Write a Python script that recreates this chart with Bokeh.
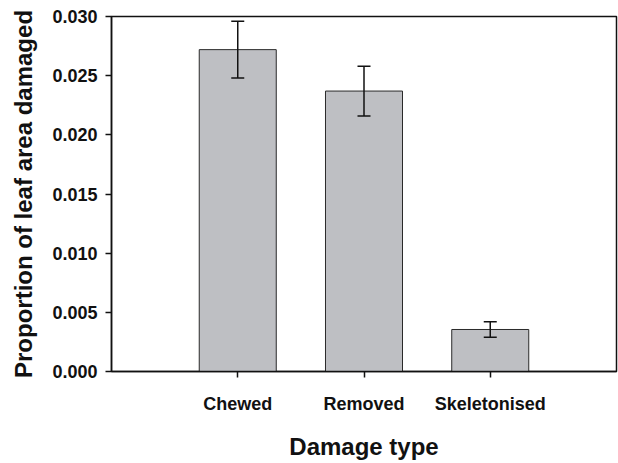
from bokeh.plotting import figure
from bokeh.models import (ColumnDataSource, Whisker, TeeHead, SingleIntervalTicker,
                          NumeralTickFormatter, Range1d, FactorRange)
from bokeh.embed import file_html
from bokeh.resources import INLINE

categories = ["Chewed", "Removed", "Skeletonised"]
means = [0.0272, 0.0237, 0.00355]
errors = [0.0024, 0.0021, 0.00065]
y_start, y_end, y_step = 0.0, 0.030, 0.005

upper = [m + e for m, e in zip(means, errors)]
lower = [m - e for m, e in zip(means, errors)]
src = ColumnDataSource(dict(cat=categories, mean=means, upper=upper, lower=lower))

FONT = "Liberation Sans"
INK = "#111111"

p = figure(width=618, height=463, output_backend="svg", toolbar_location=None,
           x_range=FactorRange(*categories, range_padding=1/3),
           y_range=Range1d(y_start, y_end),
           min_border_left=111, min_border_right=2, min_border_top=16, min_border_bottom=92)

p.vbar(x="cat", top="mean", width=0.61, source=src,
       fill_color="#bebfc3", line_color="#2a2a2a", line_width=1)

w = Whisker(base="cat", upper="upper", lower="lower", source=src,
            line_color=INK, line_width=1.5, level="overlay",
            upper_head=TeeHead(size=13, line_color=INK, line_width=1.5),
            lower_head=TeeHead(size=13, line_color=INK, line_width=1.5))
p.add_layout(w)

p.xgrid.visible = False
p.ygrid.visible = False
p.outline_line_color = INK
p.outline_line_width = 1.5

for ax in (p.xaxis, p.yaxis):
    ax.axis_line_color = INK
    ax.axis_line_width = 1.5
    ax.major_tick_line_color = INK
    ax.major_tick_line_width = 1.5
    ax.major_tick_in = 0
    ax.major_tick_out = 6
    ax.minor_tick_line_color = None
    ax.major_label_text_font = FONT
    ax.major_label_text_font_style = "bold"
    ax.major_label_text_font_size = "18px"
    ax.major_label_text_color = INK
    ax.axis_label_text_font = FONT
    ax.axis_label_text_font_style = "bold"
    ax.axis_label_text_font_size = "24px"
    ax.axis_label_text_color = INK

p.yaxis.ticker = SingleIntervalTicker(interval=y_step)
p.yaxis.formatter = NumeralTickFormatter(format="0.000")
p.yaxis.axis_label = "Proportion of leaf area damaged"
p.yaxis.major_label_standoff = 8
p.yaxis.axis_label_standoff = 12

p.xaxis.axis_label = "Damage type"
p.xaxis.major_label_standoff = 16
p.xaxis.axis_label_standoff = 16

open("out.html", "w").write(file_html(p, INLINE))
